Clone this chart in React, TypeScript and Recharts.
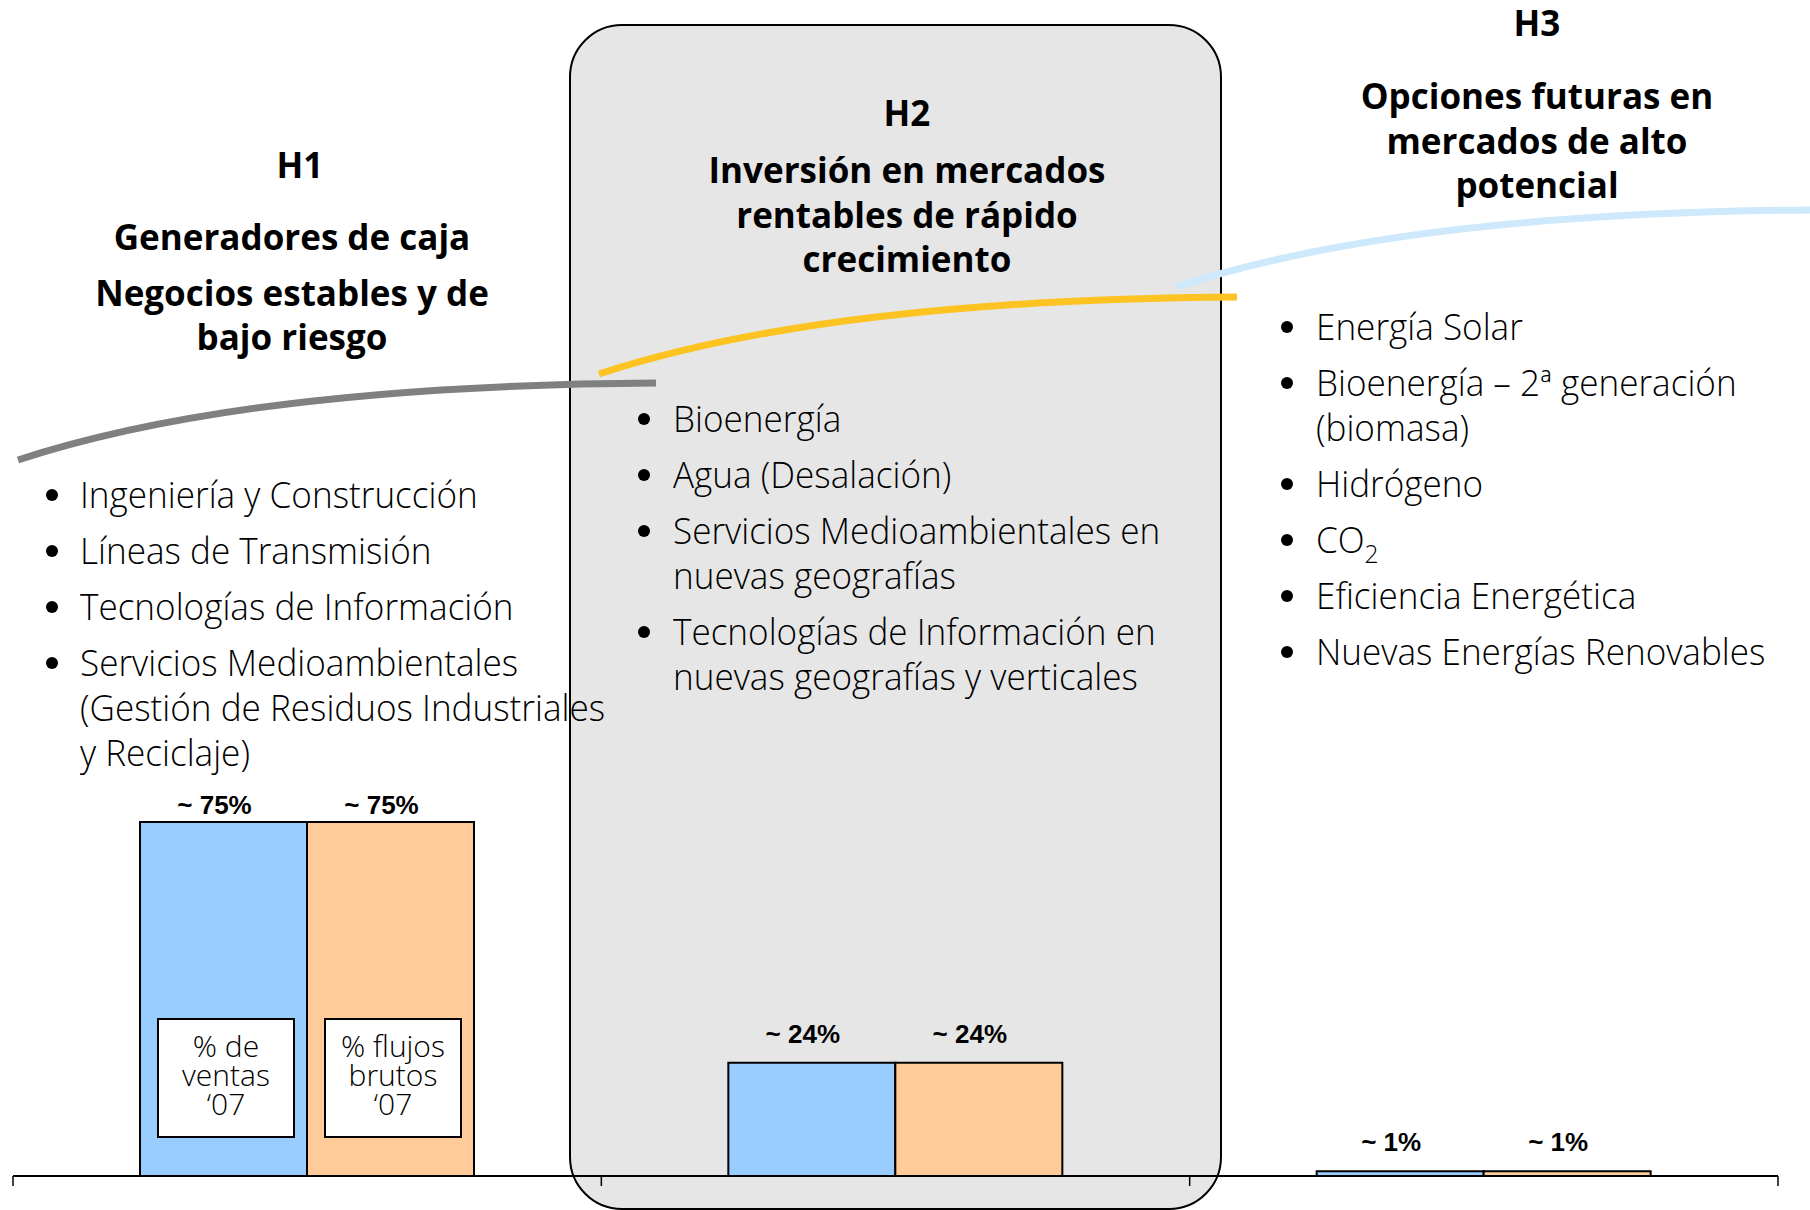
import { Bar, BarChart, LabelList, XAxis, YAxis } from 'recharts';

const horizons = ['H1', 'H2', 'H3'];
const salesShare = [75, 24, 1];
const cashFlowShare = [75, 24, 1];
const salesLabel = ['% de', 'ventas', '‘07'];
const cashFlowLabel = ['% flujos', 'brutos', '‘07'];

const h1Title = ['Generadores de caja'];
const h1Subtitle = ['Negocios estables y de', 'bajo riesgo'];
const h2Title = ['Inversión en mercados', 'rentables de rápido', 'crecimiento'];
const h3Title = ['Opciones futuras en', 'mercados de alto', 'potencial'];

const h1Items = [
  ['Ingeniería y Construcción'],
  ['Líneas de Transmisión'],
  ['Tecnologías de Información'],
  ['Servicios Medioambientales', '(Gestión de Residuos Industriales', 'y Reciclaje)']
];
const h2Items = [
  ['Bioenergía'],
  ['Agua (Desalación)'],
  ['Servicios Medioambientales en', 'nuevas geografías'],
  ['Tecnologías de Información en', 'nuevas geografías y verticales']
];
const h3Items = [
  ['Energía Solar'],
  ['Bioenergía – 2ª generación', '(biomasa)'],
  ['Hidrógeno'],
  ['CO₂'],
  ['Eficiencia Energética'],
  ['Nuevas Energías Renovables']
];

const data = horizons.map((h, i) => ({
  name: h,
  sales: salesShare[i],
  cashFlow: cashFlowShare[i]
}));

const HEAD_FONT = '"Open Sans", "Noto Sans", sans-serif';
const LIST_FONT = '"Open Sans", "Noto Sans", sans-serif';

const valueLabel = (props: any) => {
  const { x, y, width, value, index } = props;
  const gap = index === 0 ? 8 : 20;
  return (
    <text
      x={x + width / 2 - 9}
      y={y - gap}
      textAnchor="middle"
      fontFamily='"Liberation Sans", Arial, sans-serif'
      fontWeight="bold"
      fontSize={26}
      fill="#000"
    >
      {`~ ${value}%`}
    </text>
  );
};

const seriesBox = (lines: string[]) => (props: any) => {
  const { x, y, width, height, index } = props;
  if (index !== 0) return null;
  const bx = x + 18;
  const bw = width - 31;
  const by = y + height - 157;
  const cx = bx + bw / 2;
  return (
    <g>
      <rect x={bx} y={by} width={bw} height={118} fill="#fff" stroke="#000" strokeWidth={2} />
      <text
        transform={`translate(${cx}, ${by + 38})`}
        textAnchor="middle"
        fontFamily={LIST_FONT}
        fontWeight={300}
        fontSize={30}
        fill="#000"
      >
        {lines.map((t, i) => (
          <tspan key={t} x={0} dy={i === 0 ? 0 : 29}>
            {t}
          </tspan>
        ))}
      </text>
    </g>
  );
};

// category boundary ticks (left edge of each band, plus the right edge of the last)
const BoundaryTick = (props: any) => {
  const { x, y, payload, index } = props;
  const half = payload && payload.offset ? payload.offset : 0;
  const lines = [x - half];
  if (index === horizons.length - 1) lines.push(x + half);
  return (
    <g>
      {lines.map((lx) => (
        <line key={lx} x1={lx} x2={lx} y1={y} y2={y + 10} stroke="#000" strokeWidth={1.5} />
      ))}
    </g>
  );
};

const CenterLine = ({ text, cx, cy }: { text: string; cx: number; cy: number }) => (
  <div
    style={{
      position: 'absolute',
      left: cx - 350,
      top: cy - 22,
      width: 700,
      height: 44,
      lineHeight: '44px',
      textAlign: 'center',
      fontFamily: HEAD_FONT,
      fontWeight: 700,
      fontSize: 35,
      color: '#000',
      whiteSpace: 'nowrap'
    }}
  >
    {text}
  </div>
);

const renderText = (t: string) => {
  if (!t.includes('₂')) return t;
  const [a, b] = t.split('₂');
  return (
    <>
      {a}
      <sub style={{ fontSize: '0.7em', verticalAlign: '-0.4em', lineHeight: 0 }}>2</sub>
      {b}
    </>
  );
};

const BulletList = ({
  items,
  bulletX,
  textX,
  top
}: {
  items: string[][];
  bulletX: number;
  textX: number;
  top: number;
}) => {
  const rows: { text: string; y: number; first: boolean }[] = [];
  let y = top;
  items.forEach((lines) => {
    lines.forEach((t, i) => {
      rows.push({ text: t, y, first: i === 0 });
      y += 45;
    });
    y += 11;
  });
  return (
    <>
      {rows.map((r, i) => (
        <div key={i}>
          {r.first && (
            <div
              style={{
                position: 'absolute',
                left: bulletX - 6,
                top: r.y + 17,
                width: 12,
                height: 12,
                borderRadius: 6,
                background: '#000'
              }}
            />
          )}
          <div
            style={{
              position: 'absolute',
              left: textX,
              top: r.y,
              height: 45,
              lineHeight: '45px',
              fontFamily: LIST_FONT,
              fontWeight: 300,
              fontSize: 36,
              color: '#000',
              whiteSpace: 'nowrap',
              transform: 'scaleX(0.975)',
              transformOrigin: 'left center'
            }}
          >
            {renderText(r.text)}
          </div>
        </div>
      ))}
    </>
  );
};

const curve = 'c 122 -40, 312 -75, 638 -77';

const App = () => {
  return (
    <div
      style={{
        position: 'absolute',
        left: 0,
        top: 0,
        width: 1810,
        height: 1210,
        overflow: 'hidden',
        background: '#fff'
      }}
    >
      <svg width={1810} height={1210} style={{ position: 'absolute', left: 0, top: 0 }}>
        <rect x={570} y={25} width={651} height={1184} rx={52} ry={52} fill="#e6e6e6" stroke="#000" strokeWidth={2} />
      </svg>

      <div style={{ position: 'absolute', left: 0, top: 0 }}>
        <BarChart
          width={1810}
          height={1210}
          data={data}
          margin={{ top: 704, right: 32, bottom: 0, left: 13 }}
          barSize={167}
          barGap={0}
        >
          <XAxis
            dataKey="name"
            height={34}
            interval={0}
            tickSize={0}
            tickMargin={0}
            tickLine={false}
            tick={BoundaryTick}
            axisLine={{ stroke: '#000', strokeWidth: 2 }}
          />
          <YAxis hide domain={[0, 100]} />
          <Bar dataKey="sales" fill="#99ccff" stroke="#000" strokeWidth={2} isAnimationActive={false}>
            <LabelList dataKey="sales" content={valueLabel} />
            <LabelList dataKey="sales" content={seriesBox(salesLabel)} />
          </Bar>
          <Bar dataKey="cashFlow" fill="#ffcc99" stroke="#000" strokeWidth={2} isAnimationActive={false}>
            <LabelList dataKey="cashFlow" content={valueLabel} />
            <LabelList dataKey="cashFlow" content={seriesBox(cashFlowLabel)} />
          </Bar>
        </BarChart>
      </div>

      <svg width={1810} height={1210} style={{ position: 'absolute', left: 0, top: 0 }}>
        <path d={`M 18 460 ${curve}`} fill="none" stroke="#808080" strokeWidth={7} />
        <path d={`M 599 374 ${curve}`} fill="none" stroke="#fdc322" strokeWidth={7} />
        <path d={`M 1176 287 ${curve}`} fill="none" stroke="#cde9fb" strokeWidth={7} />
      </svg>

      <CenterLine text="H1" cx={300} cy={165} />
      {h1Title.map((t) => (
        <CenterLine key={t} text={t} cx={292} cy={237} />
      ))}
      {h1Subtitle.map((t, i) => (
        <CenterLine key={t} text={t} cx={292} cy={293 + i * 44} />
      ))}

      <CenterLine text="H2" cx={907} cy={113} />
      {h2Title.map((t, i) => (
        <CenterLine key={t} text={t} cx={907} cy={170 + i * 44.5} />
      ))}

      <CenterLine text="H3" cx={1537} cy={23} />
      {h3Title.map((t, i) => (
        <CenterLine key={t} text={t} cx={1537} cy={96 + i * 44.5} />
      ))}

      <BulletList items={h1Items} bulletX={52} textX={80} top={472} />
      <BulletList items={h2Items} bulletX={644} textX={673} top={396} />
      <BulletList items={h3Items} bulletX={1287} textX={1316} top={304} />
    </div>
  );
};

export default App;
